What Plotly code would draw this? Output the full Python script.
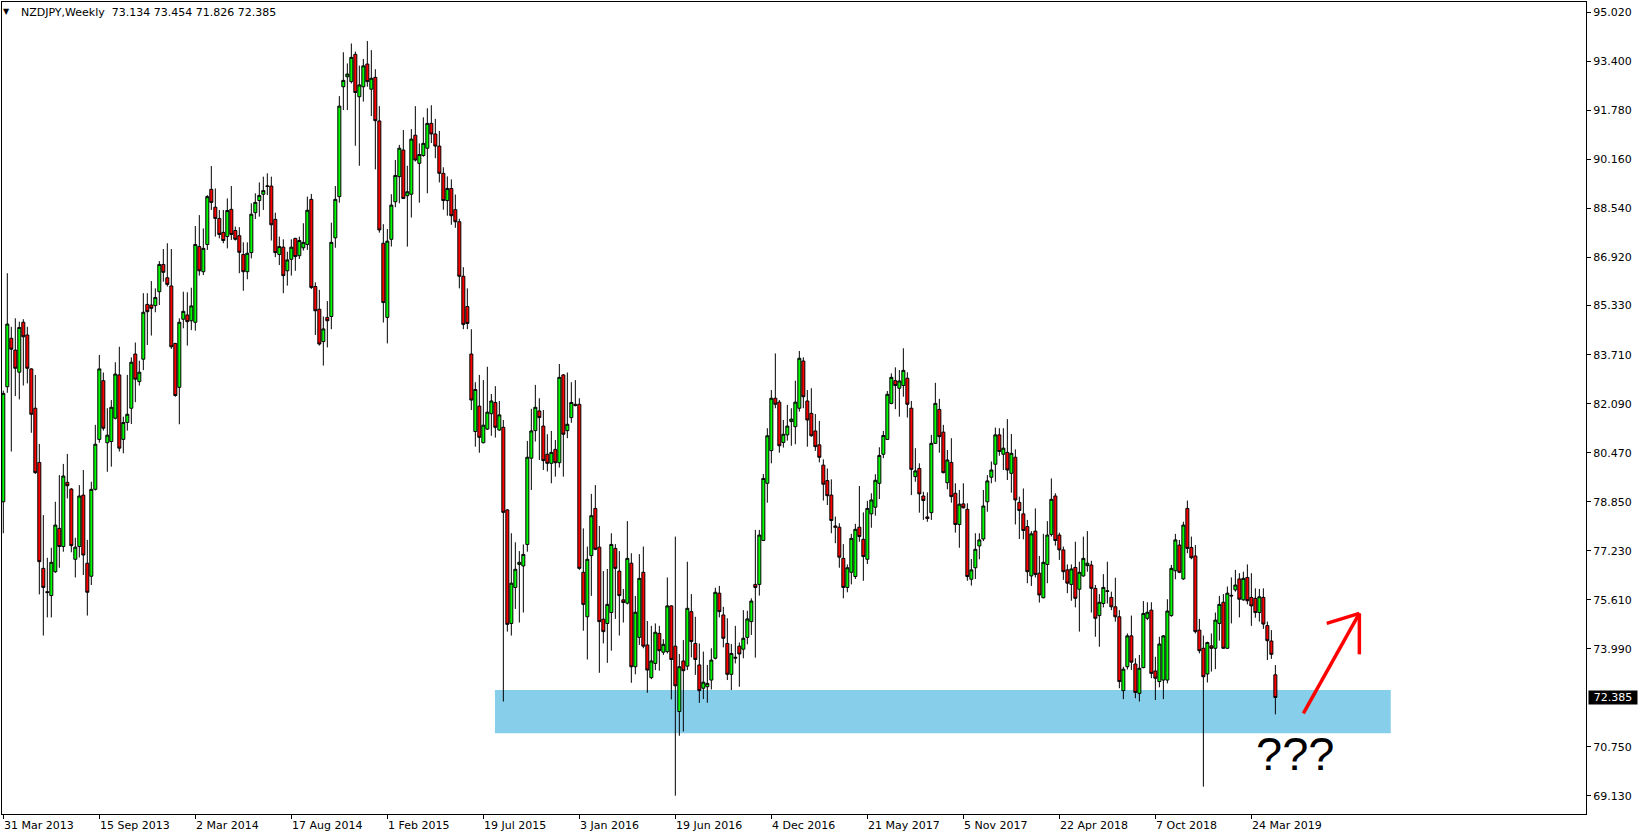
import pandas as pd
import plotly.graph_objects as go

# ---------------- data (weekly NZDJPY candles) ----------------
title_text = "NZDJPY,Weekly  73.134 73.454 71.826 72.385"
first_week = "2013-03-31"

opens = [
    78.85, 82.65, 84.25, 83.86, 83.13, 84.78, 84.36, 83.24, 81.94, 80.15,
    76.65, 75.88, 75.75, 76.54, 77.97, 77.37, 79.49, 79.27, 76.95, 77.37,
    79.07, 76.82, 76.39, 79.26, 80.91, 82.85, 80.80, 80.84, 81.61, 83.04,
    80.91, 81.47, 81.94, 83.73, 82.82, 83.56, 85.37, 85.35, 85.33, 85.79,
    86.69, 86.25, 85.98, 84.08, 82.63, 84.88, 85.02, 84.83, 84.78, 87.28,
    86.45, 87.35, 89.17, 88.58, 88.21, 87.75, 87.61, 88.51, 87.81, 87.64,
    87.02, 86.45, 87.08, 88.40, 88.80, 89.01, 89.27, 89.28, 88.18, 87.02,
    87.26, 86.48, 86.86, 87.55, 86.98, 87.24, 87.35, 88.84, 85.96, 85.21,
    84.14, 84.94, 84.97, 87.57, 88.93, 92.56, 92.89, 92.73, 93.63, 92.23,
    92.56, 93.31, 92.48, 92.87, 91.43, 87.39, 84.94, 87.52, 88.76, 89.59,
    90.47, 88.96, 89.01, 90.96, 90.03, 90.29, 90.53, 91.35, 91.00, 90.60,
    89.70, 88.80, 89.20, 88.50, 88.10, 86.30, 85.30, 83.73, 81.17, 82.01,
    80.80, 81.25, 81.76, 82.13, 81.22, 81.31, 78.58, 74.83, 76.02, 76.78,
    76.73, 77.44, 80.29, 81.20, 81.85, 81.35, 80.42, 80.12, 80.58, 80.14,
    83.04, 81.20, 81.63, 82.07, 82.07, 76.52, 75.05, 77.07, 78.63, 77.35,
    74.97, 74.83, 75.19, 77.31, 76.56, 75.61, 75.50, 76.82, 73.40, 74.37,
    76.52, 74.12, 73.04, 73.51, 74.50, 73.88, 73.90, 75.41, 74.08, 71.92,
    73.59, 73.42, 75.22, 74.17, 73.46, 72.69, 72.74, 72.96, 73.68, 75.83,
    75.11, 74.17, 73.15, 73.68, 74.08, 73.98, 74.37, 74.89, 76.12, 76.12,
    77.57, 79.46, 80.54, 82.27, 82.14, 80.81, 81.06, 81.50, 81.33, 81.94,
    83.50, 82.18, 81.77, 81.19, 80.73, 80.06, 79.55, 79.07, 78.05, 78.01,
    76.98, 76.02, 76.52, 76.38, 78.01, 77.61, 76.95, 78.45, 78.67, 79.46,
    80.42, 80.91, 82.10, 82.85, 82.60, 82.69, 82.93, 81.94, 79.68, 79.95,
    79.04, 78.35, 78.49, 80.78, 81.90, 81.15, 79.48, 80.15, 79.13, 78.10,
    78.78, 78.60, 76.29, 76.67, 77.39, 77.62, 78.85, 79.66, 80.09, 81.06,
    80.42, 80.48, 79.79, 80.32, 78.83, 78.45, 78.03, 76.40, 77.88, 76.49,
    75.68, 76.78, 77.77, 79.04, 77.75, 77.26, 76.60, 76.12, 76.68, 75.96,
    76.40, 76.74, 76.76, 75.99, 75.09, 75.49, 75.91, 75.69, 75.38, 75.05,
    72.61, 73.40, 74.42, 73.49, 72.52, 73.37, 75.00, 75.27, 73.26, 72.91,
    72.96, 72.96, 75.09, 76.57, 77.42, 76.30, 78.63, 77.34, 77.06, 74.61,
    74.01, 73.16, 74.09, 74.01, 74.83, 75.53, 74.01, 75.76, 75.94, 76.30,
    75.61, 76.35, 75.69, 75.66, 75.19, 75.69, 74.76, 74.25, 73.134,
]
highs = [
    82.52, 86.40, 84.63, 84.91, 84.80, 84.88, 84.63, 83.26, 83.04, 80.76,
    78.41, 77.00, 77.33, 78.85, 79.73, 80.10, 80.43, 79.30, 77.66, 79.40,
    79.90, 77.59, 79.51, 81.39, 83.70, 83.12, 81.94, 82.21, 83.46, 83.97,
    81.66, 83.04, 83.62, 84.11, 83.51, 85.74, 85.74, 86.14, 85.90, 86.80,
    87.20, 87.39, 87.20, 84.10, 84.91, 85.79, 85.77, 85.92, 87.96, 88.32,
    87.88, 88.98, 89.94, 89.20, 88.49, 88.49, 88.87, 89.28, 87.94, 87.92,
    87.42, 87.42, 88.71, 89.04, 89.40, 89.59, 89.70, 89.59, 88.40, 87.61,
    87.52, 87.11, 87.52, 87.57, 87.61, 88.05, 88.93, 89.02, 86.10, 85.85,
    84.97, 85.48, 88.07, 89.28, 92.25, 93.70, 93.33, 93.99, 93.72, 93.26,
    93.48, 94.07, 93.77, 93.14, 91.92, 88.02, 87.86, 89.01, 90.14, 90.64,
    91.13, 89.95, 91.16, 91.92, 90.69, 91.55, 91.85, 91.95, 91.50, 91.10,
    89.90, 89.60, 89.50, 89.00, 88.20, 86.60, 85.90, 84.55, 82.80, 83.04,
    82.87, 83.31, 82.41, 82.67, 82.18, 81.55, 78.61, 77.81, 77.51, 77.22,
    77.44, 80.86, 81.92, 82.71, 82.27, 81.88, 81.08, 81.19, 80.89, 83.40,
    83.07, 83.12, 82.80, 82.87, 82.27, 77.97, 77.37, 79.11, 79.40, 78.05,
    76.56, 76.63, 77.81, 77.45, 77.22, 75.97, 78.21, 77.15, 75.74, 77.12,
    77.37, 74.91, 74.75, 74.83, 74.75, 74.31, 76.35, 75.43, 77.70, 73.82,
    74.28, 76.87, 75.80, 75.05, 74.17, 73.90, 73.46, 74.01, 76.01, 76.07,
    75.38, 75.00, 74.15, 74.75, 74.20, 75.27, 75.25, 75.66, 77.92, 77.92,
    79.77, 81.28, 82.54, 83.75, 82.21, 81.55, 82.05, 81.94, 82.85, 83.83,
    83.62, 82.54, 82.60, 81.75, 81.52, 80.25, 79.95, 79.59, 78.36, 78.14,
    77.45, 76.78, 77.79, 78.12, 79.37, 78.50, 78.88, 79.13, 79.76, 80.65,
    81.19, 82.51, 83.09, 83.29, 83.20, 83.92, 83.13, 82.18, 80.62, 80.12,
    79.18, 79.16, 81.06, 82.78, 82.25, 81.39, 80.56, 80.95, 79.46, 79.24,
    79.46, 78.80, 76.96, 77.81, 77.81, 79.24, 79.73, 80.18, 81.30, 81.28,
    81.28, 81.58, 81.09, 80.58, 79.02, 79.29, 78.25, 77.88, 78.63, 77.06,
    77.79, 78.21, 79.62, 79.13, 77.83, 77.37, 76.78, 76.78, 77.53, 76.87,
    77.70, 77.88, 76.90, 76.10, 75.80, 76.46, 76.87, 75.88, 76.34, 75.27,
    73.40, 74.50, 75.09, 73.68, 73.79, 75.57, 75.53, 75.53, 73.73, 74.39,
    74.45, 75.63, 76.76, 77.79, 77.59, 78.19, 78.89, 77.70, 77.42, 74.98,
    74.43, 74.23, 74.50, 75.19, 75.74, 75.80, 76.05, 76.35, 76.60, 76.49,
    76.54, 76.78, 76.49, 75.99, 75.97, 75.99, 74.89, 74.61, 73.454,
]
lows = [
    77.81, 82.45, 80.51, 82.34, 82.23, 82.69, 82.76, 81.13, 79.77, 75.79,
    74.43, 75.03, 75.03, 76.50, 76.67, 77.20, 78.96, 77.18, 76.35, 77.01,
    76.43, 75.09, 76.10, 79.22, 80.80, 81.20, 79.84, 80.01, 81.57, 80.51,
    80.45, 81.20, 81.42, 82.14, 82.69, 83.20, 84.03, 84.34, 85.11, 85.35,
    86.12, 85.96, 83.90, 82.32, 81.41, 84.58, 84.01, 84.52, 84.50, 86.32,
    86.34, 87.17, 88.49, 87.61, 87.55, 87.39, 87.22, 87.50, 87.48, 86.40,
    85.82, 86.20, 86.89, 88.19, 88.27, 88.49, 88.98, 87.48, 86.93, 86.67,
    85.74, 85.99, 86.32, 86.48, 86.87, 87.15, 87.17, 85.88, 84.36, 84.01,
    83.35, 83.95, 84.55, 87.24, 88.73, 91.79, 91.79, 92.67, 90.61, 89.95,
    92.07, 92.56, 91.59, 89.83, 87.74, 84.77, 84.08, 87.28, 88.58, 88.71,
    88.85, 87.28, 88.24, 90.09, 88.73, 90.25, 89.04, 90.70, 90.20, 89.40,
    88.50, 88.30, 88.00, 87.90, 85.90, 84.55, 84.55, 81.88, 80.67, 80.47,
    80.78, 81.22, 81.03, 80.97, 81.20, 72.25, 74.56, 74.43, 75.31, 74.86,
    75.19, 77.20, 79.24, 80.84, 80.23, 79.90, 79.85, 79.46, 79.68, 79.98,
    79.68, 80.95, 81.46, 82.00, 76.60, 74.59, 73.64, 75.74, 77.25, 73.20,
    74.17, 73.53, 73.93, 74.98, 74.43, 74.86, 75.46, 72.87, 73.15, 74.12,
    74.01, 72.54, 72.99, 73.29, 73.27, 73.79, 73.84, 72.32, 69.14, 71.12,
    71.26, 73.29, 73.71, 73.13, 72.21, 72.33, 72.21, 72.65, 73.64, 75.03,
    74.04, 72.96, 72.63, 73.51, 72.74, 73.68, 74.14, 74.45, 73.70, 75.75,
    77.55, 78.82, 80.12, 81.94, 80.47, 80.64, 80.87, 80.70, 80.75, 81.83,
    81.94, 80.67, 81.00, 80.53, 80.15, 78.89, 78.74, 77.81, 77.48, 76.67,
    75.66, 75.86, 76.12, 76.30, 77.53, 76.24, 76.79, 77.99, 78.39, 78.94,
    80.29, 80.90, 82.07, 81.91, 81.66, 82.32, 81.63, 79.07, 79.51, 78.49,
    78.25, 78.19, 78.25, 80.76, 80.47, 79.79, 79.26, 78.82, 77.83, 77.33,
    78.63, 76.24, 76.08, 76.30, 76.95, 77.55, 78.52, 79.46, 79.51, 80.37,
    79.90, 79.57, 79.15, 78.10, 77.62, 77.61, 76.16, 76.07, 76.35, 75.52,
    75.66, 76.16, 77.70, 77.40, 76.93, 76.27, 75.83, 75.58, 75.36, 74.56,
    76.37, 76.54, 75.19, 74.39, 74.06, 75.36, 75.49, 75.27, 74.89, 72.69,
    72.33, 73.31, 73.29, 72.36, 72.25, 73.35, 74.94, 73.02, 72.30, 72.72,
    72.33, 72.85, 75.05, 76.29, 76.49, 76.27, 77.15, 76.95, 74.50, 73.84,
    69.44, 72.88, 73.24, 73.32, 74.26, 73.99, 73.99, 74.83, 75.88, 75.03,
    75.58, 75.46, 74.75, 75.02, 74.89, 74.65, 73.62, 73.66, 71.826,
]
closes = [
    82.43, 84.72, 83.89, 83.26, 84.61, 84.30, 83.26, 81.74, 79.81, 76.87,
    76.02, 75.85, 76.85, 78.08, 77.37, 79.70, 79.38, 77.40, 77.35, 79.04,
    77.09, 75.86, 79.26, 80.75, 83.24, 81.28, 81.05, 81.97, 83.07, 80.62,
    81.47, 81.74, 83.46, 82.90, 83.13, 85.11, 85.13, 85.24, 85.60, 86.69,
    86.43, 86.03, 83.97, 82.36, 84.78, 85.14, 84.80, 85.32, 87.35, 86.48,
    87.22, 88.93, 88.74, 88.21, 87.68, 87.48, 88.47, 87.68, 87.52, 87.09,
    86.45, 87.06, 88.35, 88.74, 88.97, 89.13, 89.28, 88.00, 87.08, 87.28,
    86.32, 86.84, 87.26, 86.95, 87.48, 87.42, 88.48, 85.93, 85.16, 84.06,
    84.56, 84.83, 87.42, 88.84, 91.92, 92.77, 92.98, 93.53, 92.37, 92.62,
    93.25, 92.73, 92.84, 91.44, 87.83, 85.43, 87.46, 88.65, 89.63, 90.53,
    88.87, 89.09, 90.83, 90.14, 90.32, 90.69, 91.35, 91.00, 90.60, 89.70,
    88.80, 89.20, 88.30, 88.10, 86.30, 84.71, 84.74, 82.21, 82.56, 80.98,
    81.38, 81.81, 82.18, 81.31, 81.72, 78.50, 74.80, 76.16, 76.62, 76.85,
    77.11, 80.32, 81.19, 81.97, 81.63, 80.21, 80.12, 80.48, 80.14, 82.96,
    81.08, 81.41, 82.13, 82.03, 76.65, 75.46, 76.95, 78.39, 77.28, 74.89,
    74.56, 75.46, 77.44, 76.65, 75.75, 75.52, 76.98, 73.40, 75.20, 76.32,
    74.08, 73.29, 73.59, 74.54, 73.93, 74.14, 75.41, 73.64, 72.77, 73.40,
    73.27, 75.33, 74.23, 73.64, 72.61, 72.89, 72.85, 73.62, 75.86, 75.22,
    74.34, 73.15, 73.84, 73.71, 73.82, 74.34, 74.98, 75.57, 76.02, 77.75,
    79.62, 81.03, 82.27, 82.07, 80.70, 81.08, 81.35, 81.58, 82.14, 83.59,
    82.32, 81.55, 81.03, 80.67, 80.32, 79.43, 79.05, 78.23, 78.01, 77.02,
    76.02, 76.67, 77.64, 77.94, 77.70, 77.04, 78.63, 78.91, 79.56, 80.38,
    81.04, 82.40, 82.96, 82.69, 82.84, 83.19, 82.07, 79.92, 79.87, 79.11,
    78.89, 78.30, 80.78, 82.10, 81.00, 79.81, 80.23, 79.02, 78.10, 78.77,
    78.65, 76.38, 76.60, 77.28, 77.59, 78.71, 79.54, 79.90, 81.06, 80.51,
    80.62, 79.90, 80.45, 78.91, 78.56, 77.90, 76.54, 77.79, 76.45, 75.77,
    76.85, 77.75, 78.93, 77.57, 77.26, 76.54, 76.16, 76.63, 75.66, 76.52,
    76.98, 76.82, 75.99, 75.00, 75.53, 76.02, 75.89, 75.38, 75.05, 72.91,
    73.32, 74.42, 73.55, 72.55, 73.35, 75.16, 75.20, 73.18, 73.02, 74.15,
    74.42, 75.24, 76.65, 77.59, 76.52, 78.08, 77.31, 77.00, 74.56, 73.93,
    73.07, 74.20, 74.01, 74.94, 75.46, 74.01, 75.83, 75.74, 76.10, 75.63,
    76.32, 75.58, 75.41, 75.19, 75.71, 74.81, 74.26, 73.81, 72.385,
]

date_tick_values = ["2013-03-31", "2013-09-15", "2014-03-02", "2014-08-17",
                    "2015-02-01", "2015-07-19", "2016-01-03", "2016-06-19",
                    "2016-12-04", "2017-05-21", "2017-11-05", "2018-04-22",
                    "2018-10-07", "2019-03-24"]
date_tick_labels = ["31 Mar 2013", "15 Sep 2013", "2 Mar 2014", "17 Aug 2014",
                    "1 Feb 2015", "19 Jul 2015", "3 Jan 2016", "19 Jun 2016",
                    "4 Dec 2016", "21 May 2017", "5 Nov 2017", "22 Apr 2018",
                    "7 Oct 2018", "24 Mar 2019"]
price_ticks = [95.020, 93.400, 91.780, 90.160, 88.540, 86.920, 85.330, 83.710,
               82.090, 80.470, 78.850, 77.230, 75.610, 73.990, 70.750, 69.130]
last_price = 72.385

# support zone (price band) and its span in weeks from the first candle
zone_low, zone_high = 71.20, 72.63
zone_weeks = (122.9, 346.85)
# hand-drawn arrow (weeks from first candle, price)
arrow_shaft = ((325.0, 71.86), (339.0, 75.165))
arrow_head = ((330.85, 74.835), (339.0, 75.165), (339.0, 73.81))
question_pos = (322.9, 70.52)

# ---------------- figure ----------------
weeks = pd.date_range(first_week, periods=len(opens), freq="7D")
t0 = weeks[0]


def wk(n):
    return t0 + pd.Timedelta(days=7 * n)


BULL = "#00FF00"
BEAR = "#FF0000"
FONT = "DejaVu Sans"

fig = go.Figure()
fig.add_trace(go.Candlestick(
    x=weeks, open=opens, high=highs, low=lows, close=closes,
    increasing=dict(fillcolor=BULL, line=dict(color="black", width=1)),
    decreasing=dict(fillcolor=BEAR, line=dict(color="black", width=1)),
    whiskerwidth=0, showlegend=False, hoverinfo="skip",
))

shapes = [dict(type="rect", xref="x", yref="y",
               x0=wk(zone_weeks[0]), x1=wk(zone_weeks[1]),
               y0=zone_low, y1=zone_high,
               fillcolor="#87CEEB", line=dict(width=0), layer="below")]
(ax0, ay0), (ax1, ay1) = arrow_shaft
shapes.append(dict(type="line", xref="x", yref="y", x0=wk(ax0), y0=ay0,
                   x1=wk(ax1), y1=ay1, line=dict(color="#FF0000", width=3.5)))
for (hx, hy) in (arrow_head[0], arrow_head[2]):
    shapes.append(dict(type="line", xref="x", yref="y",
                       x0=wk(hx), y0=hy, x1=wk(arrow_head[1][0]), y1=arrow_head[1][1],
                       line=dict(color="#FF0000", width=3.5)))

annotations = []
for d, lab in zip(date_tick_values, date_tick_labels):
    annotations.append(dict(x=d, xref="x", y=0, yref="paper", text=lab,
                            showarrow=False, xanchor="left", yanchor="top",
                            yshift=-4, borderpad=0,
                            font=dict(family=FONT, size=11, color="black")))
annotations.append(dict(x=0, xref="paper", y=1, yref="paper", text=title_text,
                        showarrow=False, xanchor="left", yanchor="top",
                        xshift=18, yshift=-3, borderpad=0,
                        font=dict(family=FONT, size=11, color="black")))
annotations.append(dict(x=0, xref="paper", y=1, yref="paper", text="▼",
                        showarrow=False, xanchor="left", yanchor="top",
                        xshift=0, yshift=-4, borderpad=0,
                        font=dict(family=FONT, size=8, color="black")))
annotations.append(dict(x=1, xref="paper", y=last_price, yref="y",
                        text=f"{last_price:.3f}", showarrow=False,
                        xanchor="left", yanchor="middle", xshift=2,
                        width=48, height=13, align="center", borderpad=0,
                        bgcolor="black",
                        font=dict(family=FONT, size=11, color="white")))
annotations.append(dict(x=wk(question_pos[0]), xref="x", y=question_pos[1], yref="y",
                        text="???", showarrow=False, xanchor="center",
                        yanchor="middle",
                        font=dict(family="Liberation Sans", size=47, color="black")))

fig.update_layout(
    width=1643, height=838, autosize=False,
    margin=dict(l=2, r=57, t=2, b=24, pad=0),
    paper_bgcolor="white", plot_bgcolor="white",
    boxgap=0.25, boxgroupgap=0,
    shapes=shapes, annotations=annotations,
    showlegend=False,
    xaxis=dict(
        type="date",
        range=[t0 - pd.Timedelta(days=2.3), t0 + pd.Timedelta(days=2769.6)],
        rangeslider=dict(visible=False),
        showgrid=False, zeroline=False,
        showline=True, linecolor="black", linewidth=1, mirror=True,
        ticks="outside", ticklen=4, tickcolor="black",
        tickvals=date_tick_values, showticklabels=False,
    ),
    yaxis=dict(
        side="right", range=[68.535, 95.36],
        showgrid=False, zeroline=False,
        showline=True, linecolor="black", linewidth=1, mirror=True,
        ticks="outside", ticklen=4, tickcolor="black",
        tickvals=price_ticks, ticktext=[f"{v:.3f}" for v in price_ticks],
        tickfont=dict(family=FONT, size=11, color="black"),
    ),
)

fig.write_html("out.html", config={"displayModeBar": False},
               post_script="document.body.style.margin='0';")
